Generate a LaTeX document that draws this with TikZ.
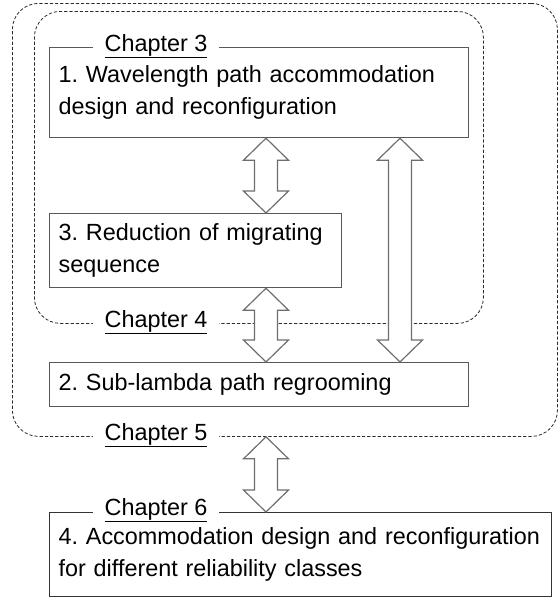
\documentclass[tikz,border=0pt]{standalone}
\usepackage{fontspec}
\setmainfont{Liberation Sans}
\usetikzlibrary{calc}

\definecolor{boxgray}{HTML}{585858}
\definecolor{arrowgray}{HTML}{6E6E6E}
\definecolor{dashgray}{HTML}{2A2A2A}

\tikzset{
  txt/.style={font=\fontsize{23.4}{31.5}\selectfont\frenchspacing},
  stagebox/.style={txt, draw=boxgray, line width=1.2pt, anchor=north west,
    inner xsep=9pt, inner ysep=0pt, align=left},
  frame/.style={draw=dashgray, line width=0.8pt, dash pattern=on 3.2pt off 2pt,
    rounded corners=26pt, anchor=north west, inner sep=0pt},
  chap/.style={txt, fill=white, inner xsep=12pt, inner ysep=1pt, anchor=center},
  % double-headed block arrow running vertically from the start to the target
  blockarrow/.style={draw=arrowgray, fill=white, line width=1.2pt, line join=miter,
    to path={let \p1=(\tikztostart), \p2=(\tikztotarget) in
      (\x1,\y1) -- (\x1+22.5pt,\y1-22pt) -- (\x1+11.5pt,\y1-22pt)
      -- (\x1+11.5pt,\y2+22pt) -- (\x1+22.5pt,\y2+22pt) -- (\x1,\y2)
      -- (\x1-22.5pt,\y2+22pt) -- (\x1-11.5pt,\y2+22pt)
      -- (\x1-11.5pt,\y1-22pt) -- (\x1-22.5pt,\y1-22pt) -- cycle}}
}

\begin{document}
\begin{tikzpicture}[x=1pt,y=-1pt]
\useasboundingbox (0,0) rectangle (558,597);

% dashed groupings of chapters
\node[frame, minimum width=545pt, minimum height=433pt] (outer) at (12,3) {};
\node[frame, minimum width=449pt, minimum height=312pt] (inner) at (34,11) {};

% the four work items
\node[stagebox, text width=401pt, minimum height=90pt] (b1) at (49,47)
  {1. Wavelength path accommodation\\design and reconfiguration};
\node[stagebox, text width=274pt, minimum height=74pt] (b3) at (49,213)
  {3. Reduction of migrating\\sequence};
\node[stagebox, text width=401pt, minimum height=44pt] (b2) at (49,362)
  {2. Sub-lambda path regrooming};
\node[stagebox, draw=black!80, text width=484pt, minimum height=84pt] (b4) at (49,512)
  {4. Accommodation design and reconfiguration\\for different reliability classes};

% chapter captions sitting on the frame lines
\node[chap] (c3) at (156,46) {\underline{Chapter 3}};
\node[chap] (c4) at (156,322) {\underline{Chapter 4}};
\node[chap] (c5) at (156,435) {\underline{Chapter 5}};
\node[chap] (c6) at (156,510) {\underline{Chapter 6}};

% axis positions of the arrows
\coordinate (ax) at (266,0);
\coordinate (bx) at (400,0);

% arrows between the items
\draw[blockarrow] (b1.south -| ax) to (b3.north -| ax);
\draw[blockarrow] (b3.south -| ax) to (b2.north -| ax);
\draw[blockarrow] (b1.south -| bx) to (b2.north -| bx);
\draw[blockarrow] (outer.south -| ax) to (b4.north -| ax);
\end{tikzpicture}
\end{document}
